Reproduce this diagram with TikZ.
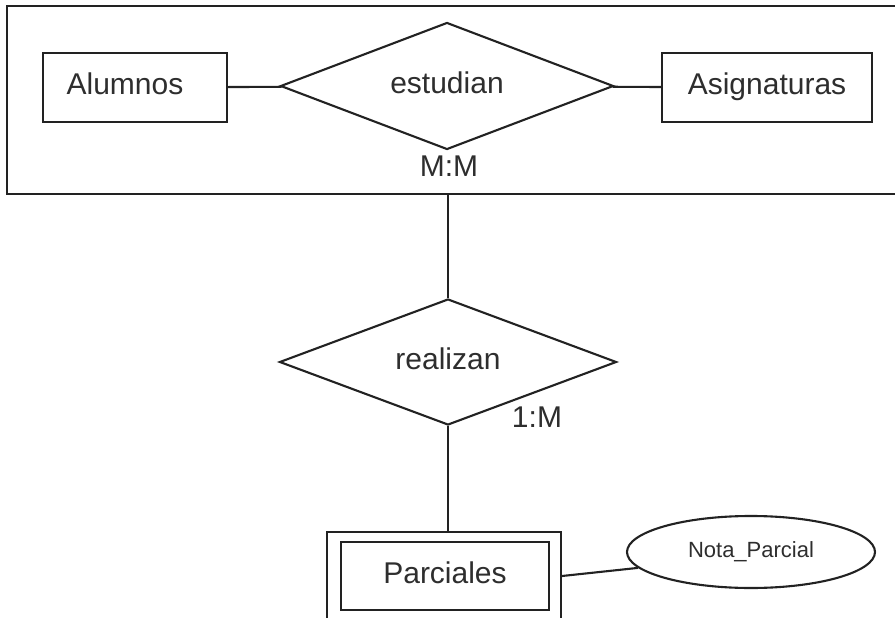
\documentclass[tikz,border=0pt]{standalone}
\usepackage{fontspec}
\setmainfont{Liberation Sans}
\usetikzlibrary{shapes.geometric,calc}
\definecolor{ink}{HTML}{222222}
\definecolor{txt}{HTML}{2E2E2E}
\tikzset{
  base/.style={draw=ink, line width=2.1pt, text=txt, inner sep=0pt,
    text height=21pt, text depth=6pt,
    font=\fontsize{30}{35}\selectfont},
  entity/.style={base, rectangle},
  relation/.style={base, diamond, aspect=2.6},
  attribute/.style={base, ellipse, text height=16pt, text depth=5pt,
    font=\fontsize{22}{26}\selectfont},
  link/.style={draw=ink, line width=2.1pt},
  card/.style={text=txt, inner sep=0pt, font=\fontsize{30}{35}\selectfont}
}
\begin{document}
\begin{tikzpicture}[x=1pt,y=-1pt]
  \useasboundingbox (0,0) rectangle (895,618);
  \fill[white] (0,0) rectangle (895,618);
  \clip (0,0) rectangle (895,618);

  % aggregation box around the M:M relationship
  \node[entity, minimum width=898pt, minimum height=188pt] (agg) at (456,100) {};

  % entities and relationship inside the aggregation
  \node[entity, minimum width=184pt, minimum height=69pt] (alum) at (135,87.5) {\hspace*{-20pt}Alumnos};
  \node[entity, minimum width=210pt, minimum height=69pt] (asig) at (767,87.5) {Asignaturas};
  \node[relation, minimum width=333pt, minimum height=127pt] (estu) at (447,86) {estudian};
  \draw[link] (alum) -- (estu);
  \draw[link] (estu) -- (asig);
  \node[card] (mm) at (449,166) {M:M};

  % relationship between the aggregation and the weak entity
  \node[relation, minimum width=337pt, minimum height=126pt] (real) at (448,362) {realizan};
  \node[card] (om) at (537,417) {1:M};
  \draw[link] (agg.south -| real.north) -- (real.north);

  % weak entity (double rectangle)
  \node[entity, minimum width=234pt, minimum height=108pt] (pout) at (444,586) {};
  \node[entity, minimum width=208pt, minimum height=68pt] (pin) at (445,576) {Parciales};
  \draw[link] (real.south) -- (real.south |- pout.north);

  % attribute
  \node[attribute, minimum width=248pt, minimum height=72pt] (nota) at (751,552) {Nota\_Parcial};
  \draw[link] (pout.east |- pin.east) -- (nota.188);
\end{tikzpicture}
\end{document}
